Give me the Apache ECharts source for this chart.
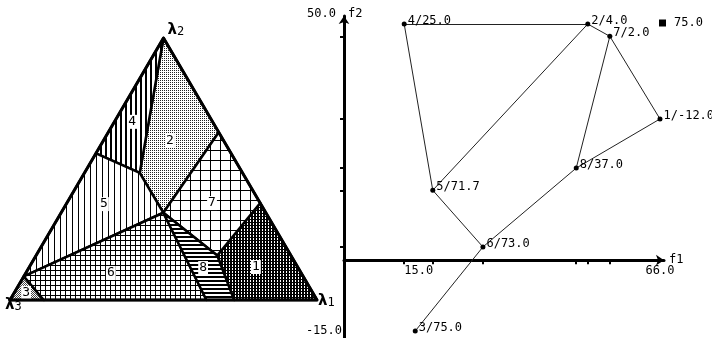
<!DOCTYPE html>
<html>
<head>
<meta charset="utf-8">
<script src="https://cdn.jsdelivr.net/npm/echarts@6/dist/echarts.min.js"></script>
<style>
  html, body { margin: 0; padding: 0; background: #fff; }
  #chart { width: 712px; height: 338px; }
</style>
</head>
<body>
<div id="chart"></div>
<script>
// ---------- weight triangle (λ1, λ2, λ3) ----------
const cornerNames = ['1', '2', '3'];
const cornerWeights = [[1, 0, 0], [0, 1, 0], [0, 0, 1]];

// breakpoints of the partition, as weights [λ1, λ2, λ3]
const wA = [0, 0.56, 0.44];
const wB = [0.18, 0.485, 0.335];
const wC = [0.333, 0.333, 0.334];
const wD = [0.36, 0.64, 0];
const wE = [0.63, 0.37, 0];
const wF = [0.59, 0.17, 0.24];
const wG = [0.73, 0, 0.27];
const wH = [0.64, 0, 0.36];
const wI = [0, 0.09, 0.91];
const wJ = [0.11, 0, 0.89];
const [w1, w2, w3] = cornerWeights;

const regionIds = ['1', '2', '3', '4', '5', '6', '7', '8'];
const regionPolys = [
  [wE, w1, wG, wF],
  [w2, wD, wC, wB],
  [w3, wI, wJ],
  [w2, wB, wA],
  [wA, wB, wC, wI],
  [wI, wC, wH, wJ],
  [wD, wE, wF, wC],
  [wC, wF, wG, wH]
];
const regionLabelAt = [
  [0.738, 0.126, 0.136],
  [0.216, 0.61, 0.174],
  [0.039, 0.027, 0.934],
  [0.058, 0.68, 0.262],
  [0.123, 0.366, 0.511],
  [0.277, 0.103, 0.62],
  [0.473, 0.37, 0.157],
  [0.568, 0.122, 0.31]
];

// ---------- objective space (f1, f2) ----------
const solIds = ['1', '2', '3', '4', '5', '6', '7', '8'];
const f1 = [66.0, 51.6, 17.2, 15.0, 20.7, 30.7, 56.0, 49.3];
const f2 = [29.9, 50.0, -15.0, 50.0, 14.8, 2.8, 47.4, 19.5];
const f3 = [-12.0, 4.0, 75.0, 25.0, 71.7, 73.0, 2.0, 37.0];
const edges = [['4', '2'], ['2', '7'], ['7', '1'], ['1', '8'], ['8', '6'], ['6', '3'],
               ['4', '5'], ['5', '6'], ['5', '2'], ['7', '8']];
const xTickValues = [15.0, 20.7, 30.7, 49.3, 51.6, 56.0];
const yTickValues = [47.4, 29.9, 19.5, 14.8, 2.8];
const xLabelValues = [15.0, 66.0];
const yLabelValues = [50.0, -15.0];
const legendName = '75.0';

const MONO = '"DejaVu Sans Mono", monospace';

// f2 range of the objective panel and its plot box
const F2_MIN = -16.48, F2_MAX = 51.7;
const PLOT_TOP = 16, PLOT_H = 322;
// the f1 axis crosses at f2 = 0: shift it up from the bottom edge
const f1AxisShift = -PLOT_H * (0 - F2_MIN) / (F2_MAX - F2_MIN);

// barycentric weights -> unit-triangle coordinates
function toXY(w) { return [w[0] + 0.5 * w[1], w[1]]; }

// fill patterns
function pattern(w, h, draw, ink) {
  const cv = document.createElement('canvas');
  cv.width = w; cv.height = h;
  const g = cv.getContext('2d');
  g.fillStyle = '#fff'; g.fillRect(0, 0, w, h);
  g.fillStyle = ink || '#000';
  draw(g);
  return { image: cv, repeat: 'repeat' };
}
const fills = [
  pattern(3, 3, g => { g.fillRect(0, 0, 3, 1); g.fillRect(0, 0, 1, 3); g.fillRect(2, 2, 1, 1); g.fillRect(2, 1, 1, 1); }),
  pattern(2, 2, g => { g.fillRect(0, 0, 1, 1); }, '#222'),
  pattern(2, 2, g => { g.fillRect(0, 0, 1, 1); g.fillRect(1, 1, 1, 1); }, '#444'),
  pattern(5, 1, g => { g.fillRect(0, 0, 2, 1); }),
  pattern(6, 1, g => { g.fillRect(0, 0, 1, 1); }),
  pattern(5, 5, g => { g.fillRect(0, 0, 5, 1); g.fillRect(0, 0, 1, 5); }),
  pattern(10, 10, g => { g.fillRect(0, 0, 10, 1); g.fillRect(0, 0, 1, 10); }),
  pattern(1, 4, g => { g.fillRect(0, 0, 1, 2); })
];

const chart = echarts.init(document.getElementById('chart'), null, { renderer: 'canvas' });

chart.setOption({
  animation: false,
  backgroundColor: '#fff',
  grid: [
    { left: 10, top: 38, width: 307, height: 262, outerBoundsMode: 'none', containLabel: false },
    { left: 344, top: PLOT_TOP, width: 320, height: PLOT_H, outerBoundsMode: 'none', containLabel: false }
  ],
  xAxis: [
    { gridIndex: 0, type: 'value', min: 0, max: 1, show: false },
    {
      gridIndex: 1, type: 'value', min: 3, max: 66.8,
      position: 'bottom', offset: f1AxisShift,
      name: 'f1', nameLocation: 'end', nameGap: 5, nameMoveOverlap: false,
      nameTextStyle: { fontFamily: MONO, fontSize: 12, color: '#000', padding: [0, 0, 3, 0] },
      axisLine: { onZero: false, symbol: ['none', 'arrow'], symbolSize: [8, 8],
                  lineStyle: { color: '#000', width: 3 } },
      axisTick: { show: true, customValues: xTickValues, length: 4,
                  lineStyle: { color: '#000', width: 2 } },
      axisLabel: {
        customValues: xLabelValues, margin: 5, color: '#000',
        fontFamily: MONO, fontSize: 12,
        formatter: v => v === xLabelValues[0] ? '{l|' + v.toFixed(1) + '}' : v.toFixed(1),
        rich: { l: { padding: [0, 0, 0, 29], fontFamily: MONO, fontSize: 12, color: '#000' } }
      },
      splitLine: { show: false }
    }
  ],
  yAxis: [
    { gridIndex: 0, type: 'value', min: 0, max: 1, show: false },
    {
      gridIndex: 1, type: 'value', min: F2_MIN, max: F2_MAX,
      name: 'f2', nameLocation: 'end', nameGap: -4, nameMoveOverlap: false,
      nameTextStyle: { fontFamily: MONO, fontSize: 12, color: '#000',
                       align: 'left', verticalAlign: 'bottom', padding: [0, 0, 0, 4] },
      axisLine: { onZero: false, symbol: ['none', 'arrow'], symbolSize: [8, 8],
                  lineStyle: { color: '#000', width: 3 } },
      axisTick: { show: true, customValues: yTickValues, length: 4,
                  lineStyle: { color: '#000', width: 2 } },
      axisLabel: {
        customValues: yLabelValues, margin: 2, color: '#000',
        fontFamily: MONO, fontSize: 12,
        formatter: v => v === yLabelValues[0] ? '{t|' + v.toFixed(1) + '}' : v.toFixed(1),
        rich: { t: { padding: [0, 6, 21, 0], fontFamily: MONO, fontSize: 12, color: '#000' } }
      },
      splitLine: { show: false }
    }
  ],
  legend: {
    data: [{ name: legendName, icon: 'rect' }],
    left: 654, top: 12, itemWidth: 7, itemHeight: 7, selectedMode: false,
    textStyle: { fontFamily: MONO, fontSize: 12, color: '#000', padding: [0, 0, 0, 3] }
  },
  series: [
    {
      // partition regions of the weight triangle
      type: 'custom', coordinateSystem: 'cartesian2d', xAxisIndex: 0, yAxisIndex: 0,
      silent: true,
      data: regionLabelAt.map(toXY),
      renderItem: (params, api) => {
        const i = params.dataIndex;
        const pts = regionPolys[i].map(w => api.coord(toXY(w)));
        const c = api.coord([api.value(0), api.value(1)]);
        return {
          type: 'group',
          children: [
            { type: 'polygon', shape: { points: pts },
              style: { fill: fills[i], stroke: '#000', lineWidth: 2.5, lineJoin: 'round' } },
            { type: 'text', x: c[0], y: c[1], z2: 10,
              style: { text: regionIds[i], fill: '#000', backgroundColor: '#fff',
                       padding: [1, 1, 0, 1], align: 'center', verticalAlign: 'middle',
                       font: '13px ' + MONO } }
          ]
        };
      }
    },
    {
      // triangle outline and corner names
      type: 'custom', coordinateSystem: 'cartesian2d', xAxisIndex: 0, yAxisIndex: 0,
      silent: true, z: 3,
      data: [[0.5, 0.5]],
      renderItem: (params, api) => {
        const corners = cornerWeights.map(w => api.coord(toXY(w)));
        const shift = [[1, 1], [4, -8], [-5, 5]];
        const children = [
          { type: 'polygon', shape: { points: corners },
            style: { fill: 'none', stroke: '#000', lineWidth: 3, lineJoin: 'round' } }
        ];
        corners.forEach((p, k) => {
          children.push({
            type: 'text', x: p[0] + shift[k][0], y: p[1] + shift[k][1],
            style: {
              text: '{l|λ}{n|' + cornerNames[k] + '}',
              align: 'left', verticalAlign: 'middle',
              rich: {
                l: { font: 'bold 15px "DejaVu Sans"', fill: '#000' },
                n: { font: '12px ' + MONO, fill: '#000', padding: [4, 0, 0, 0] }
              }
            }
          });
        });
        return { type: 'group', children };
      }
    },
    {
      // efficient solutions and their adjacency
      type: 'graph', name: legendName, coordinateSystem: 'cartesian2d',
      xAxisIndex: 1, yAxisIndex: 1, silent: true,
      symbol: 'circle', symbolSize: 5,
      itemStyle: { color: '#000' },
      lineStyle: { color: '#222', width: 1, opacity: 1, curveness: 0 },
      label: {
        show: true, position: 'right', distance: 1, offset: [0, -3],
        color: '#000', fontFamily: MONO, fontSize: 12,
        formatter: p => solIds[p.dataIndex] + '/' + f3[p.dataIndex].toFixed(1)
      },
      emphasis: { disabled: true },
      data: solIds.map((id, i) => ({ name: id, value: [f1[i], f2[i]] })),
      links: edges.map(([s, t]) => ({ source: s, target: t }))
    }
  ]
});
</script>
</body>
</html>
